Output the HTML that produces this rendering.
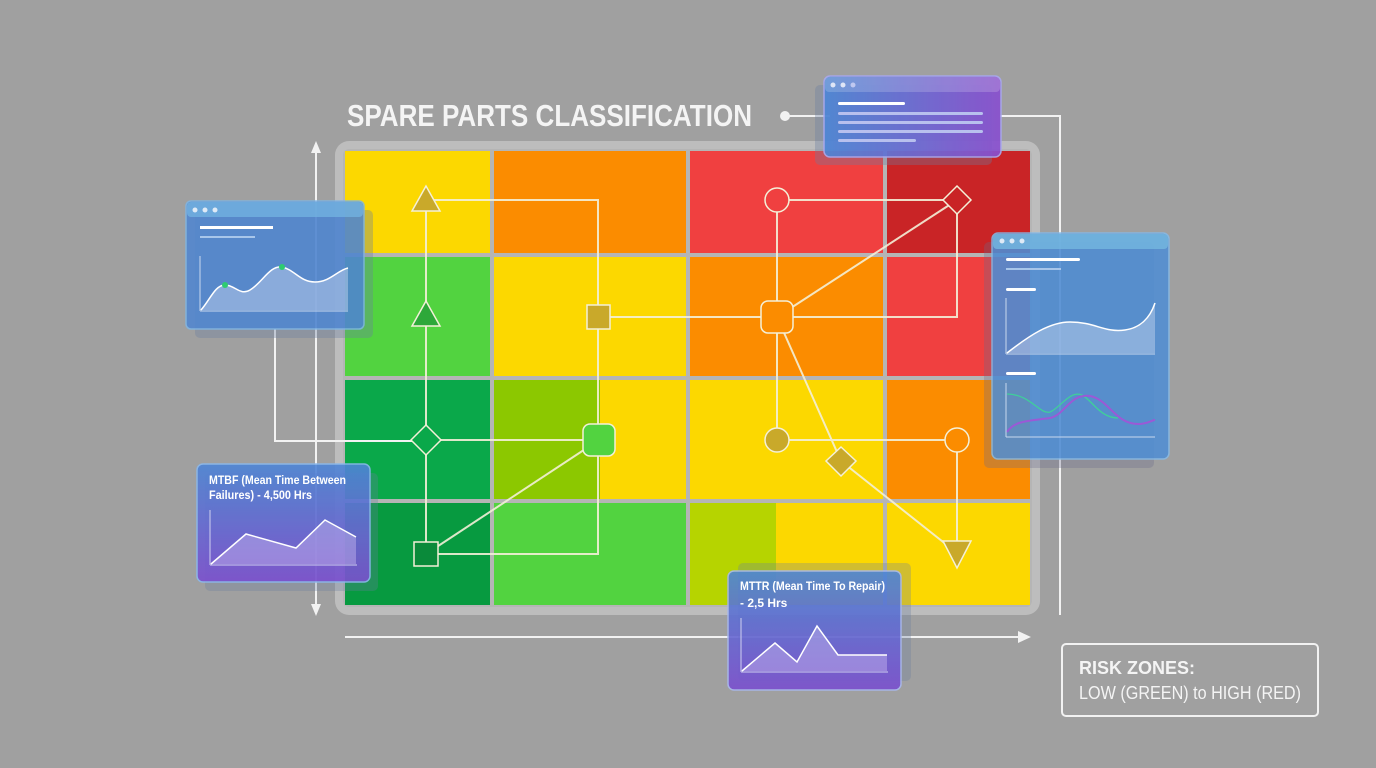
<!DOCTYPE html>
<html><head><meta charset="utf-8"><style>
html,body{margin:0;padding:0;background:#a0a0a0;}
svg{display:block;font-family:"Liberation Sans",sans-serif;}
</style></head><body>
<svg width="1376" height="768" viewBox="0 0 1376 768" xmlns="http://www.w3.org/2000/svg">
<defs>
<linearGradient id="bp" x1="0" y1="0" x2="0" y2="1"><stop offset="0" stop-color="#4d86d6"/><stop offset="1" stop-color="#7b4fcf"/></linearGradient>
<linearGradient id="bph" x1="0" y1="0" x2="1" y2="0"><stop offset="0" stop-color="#4d86d6"/><stop offset="1" stop-color="#8a4fcf"/></linearGradient>
</defs>
<rect width="1376" height="768" fill="#a0a0a0"/>
<!-- frame -->
<rect x="335" y="141" width="705" height="474" rx="14" fill="#bdbdbd"/>
<rect x="343" y="149" width="689" height="458" rx="6" fill="#b5b5b5"/>
<!-- cells -->
<g>
<rect x="345" y="151" width="145" height="102" fill="#fcd800"/>
<rect x="494" y="151" width="192" height="102" fill="#fb8c00"/>
<rect x="690" y="151" width="193" height="102" fill="#f04040"/>
<rect x="887" y="151" width="143" height="102" fill="#c92426"/>
<rect x="345" y="257" width="145" height="119" fill="#52d340"/>
<rect x="494" y="257" width="192" height="119" fill="#fcd800"/>
<rect x="690" y="257" width="193" height="119" fill="#fb8c00"/>
<rect x="887" y="257" width="143" height="119" fill="#f04040"/>
<rect x="345" y="380" width="145" height="119" fill="#0aa84a"/>
<rect x="494" y="380" width="106" height="119" fill="#8cc800"/>
<rect x="600" y="380" width="86" height="119" fill="#fcd800"/>
<rect x="690" y="380" width="193" height="119" fill="#fcd800"/>
<rect x="887" y="380" width="143" height="119" fill="#fb8c00"/>
<rect x="345" y="503" width="145" height="102" fill="#079a40"/>
<rect x="494" y="503" width="192" height="102" fill="#52d340"/>
<rect x="690" y="503" width="86" height="102" fill="#b6d400"/>
<rect x="776" y="503" width="107" height="102" fill="#fcd800"/>
<rect x="887" y="503" width="143" height="102" fill="#fcd800"/>
</g>
<!-- axes -->
<g stroke="#f2f2f2" stroke-width="2" fill="none">
<line x1="316" y1="150" x2="316" y2="608"/>
<line x1="345" y1="637" x2="1020" y2="637"/>
<polyline points="785,116 830,116"/>
<polyline points="1000,116 1060,116 1060,615"/>
<polyline points="275,329 275,441 426,441"/>
</g>
<polygon points="316,141 311,153 321,153" fill="#f2f2f2"/>
<polygon points="316,616 311,604 321,604" fill="#f2f2f2"/>
<polygon points="1031,637 1018,631 1018,643" fill="#f2f2f2"/>
<circle cx="785" cy="116" r="5" fill="#f2f2f2"/>
<!-- connectors -->
<g stroke="#f4f0d8" stroke-width="2" fill="none" opacity="0.9">
<polyline points="426,200 598,200 598,554 426,554"/>
<line x1="426" y1="200" x2="426" y2="554"/>
<polyline points="598,317 957,317 957,200"/>
<line x1="777" y1="200" x2="957" y2="200"/>
<line x1="777" y1="200" x2="777" y2="440"/>
<line x1="777" y1="317" x2="957" y2="200"/>
<polyline points="777,317 841,461 957,553"/>
<polyline points="777,440 957,440 957,553"/>
<line x1="426" y1="440" x2="599" y2="440"/>
<line x1="426" y1="554" x2="599" y2="440"/>
</g>
<!-- nodes -->
<g stroke="#f4f0d8" stroke-width="1.5">
<polygon points="426,186 412,211 440,211" fill="#c9a92a"/>
<polygon points="426,301 412,326 440,326" fill="#2ea83a"/>
<rect x="587" y="305" width="23" height="24" fill="#c9a92a"/>
<circle cx="777" cy="200" r="12" fill="#f04040"/>
<polygon points="957,186 971,200 957,214 943,200" fill="#c92426"/>
<rect x="761" y="301" width="32" height="32" rx="7" fill="#fb8c00"/>
<polygon points="426,425 441,440 426,455 411,440" fill="#0aa84a"/>
<rect x="583" y="424" width="32" height="32" rx="7" fill="#52d340"/>
<circle cx="777" cy="440" r="12" fill="#c9a92a"/>
<circle cx="957" cy="440" r="12" fill="#fb8c00"/>
<polygon points="841,447 856,461 841,476 826,461" fill="#c9a92a"/>
<rect x="414" y="542" width="24" height="24" fill="#0a8a3a"/>
<polygon points="943,541 971,541 957,568" fill="#c9a92a"/>
</g>
<!-- title -->
<text x="347" y="126" font-size="31" font-weight="bold" fill="#f4f4f4" textLength="405" lengthAdjust="spacingAndGlyphs">SPARE PARTS CLASSIFICATION</text>

<!-- left top card -->
<rect x="195" y="210" width="178" height="128" rx="5" fill="#6a7fa0" opacity="0.35"/>
<rect x="186" y="201" width="178" height="128" rx="5" fill="#4e86d2" opacity="0.85" stroke="#7fb6e6" stroke-width="1.5"/>
<rect x="187" y="202" width="176" height="15" rx="4" fill="#72b2e0" opacity="0.8"/>
<circle cx="195" cy="210" r="2.5" fill="#dfeaf6"/><circle cx="205" cy="210" r="2.5" fill="#dfeaf6"/><circle cx="215" cy="210" r="2.5" fill="#dfeaf6"/>
<rect x="200" y="226" width="73" height="3" fill="#fff"/>
<rect x="200" y="236" width="55" height="2" fill="#a8c6ea"/>
<path d="M201,310 C210,300 215,285 225,285 C235,285 240,296 250,290 C262,283 270,265 282,267 C295,270 300,282 315,282 C330,282 338,270 348,268 L348,310 Z" fill="#c9d8f0" opacity="0.45"/>
<path d="M201,310 C210,300 215,285 225,285 C235,285 240,296 250,290 C262,283 270,265 282,267 C295,270 300,282 315,282 C330,282 338,270 348,268" fill="none" stroke="#fff" stroke-width="1.5"/>
<line x1="200" y1="256" x2="200" y2="311" stroke="#c8d8ee" stroke-width="1"/>
<line x1="200" y1="311" x2="348" y2="311" stroke="#c8d8ee" stroke-width="1"/>
<circle cx="225" cy="285" r="3" fill="#2ecc71"/><circle cx="282" cy="267" r="3" fill="#2ecc71"/>

<!-- MTBF card -->
<rect x="205" y="473" width="173" height="118" rx="5" fill="#6a7fa0" opacity="0.3"/>
<rect x="197" y="464" width="173" height="118" rx="6" fill="url(#bp)" opacity="0.9" stroke="#8ab8ec" stroke-width="1.5"/>
<text x="209" y="484" font-size="12" font-weight="bold" fill="#fff" textLength="137" lengthAdjust="spacingAndGlyphs">MTBF (Mean Time Between</text>
<text x="209" y="499" font-size="12" font-weight="bold" fill="#fff" textLength="103" lengthAdjust="spacingAndGlyphs">Failures) - 4,500 Hrs</text>
<path d="M211,564 L246,534 L296,548 L325,520 L356,537 L356,564 Z" fill="#c8b8f0" opacity="0.45"/>
<polyline points="211,564 246,534 296,548 325,520 356,537" fill="none" stroke="#fff" stroke-width="1.5"/>
<line x1="210" y1="510" x2="210" y2="565" stroke="#d0d0f0"/><line x1="210" y1="565" x2="357" y2="565" stroke="#d0d0f0"/>

<!-- right card -->
<rect x="984" y="242" width="170" height="226" rx="5" fill="#6a6a8a" opacity="0.3"/>
<rect x="992" y="233" width="177" height="226" rx="6" fill="#4e8ed6" opacity="0.85" stroke="#86bbe8" stroke-width="1.5"/>
<rect x="993" y="234" width="175" height="15" rx="4" fill="#74b8e0" opacity="0.8"/>
<circle cx="1002" cy="241" r="2.5" fill="#dfeaf6"/><circle cx="1012" cy="241" r="2.5" fill="#dfeaf6"/><circle cx="1022" cy="241" r="2.5" fill="#dfeaf6"/>
<rect x="1006" y="258" width="74" height="3" rx="1.5" fill="#fff"/>
<rect x="1006" y="268" width="55" height="2" fill="#a8c6ea"/>
<rect x="1006" y="288" width="30" height="3" rx="1.5" fill="#fff"/>
<path d="M1007,353 C1030,335 1050,322 1070,322 C1095,322 1105,333 1125,330 C1140,328 1150,318 1155,303 L1155,353 Z" fill="#c9d8f0" opacity="0.45"/>
<path d="M1007,353 C1030,335 1050,322 1070,322 C1095,322 1105,333 1125,330 C1140,328 1150,318 1155,303" fill="none" stroke="#fff" stroke-width="1.5"/>
<line x1="1006" y1="298" x2="1006" y2="354" stroke="#c8d8ee"/><line x1="1006" y1="354" x2="1155" y2="354" stroke="#c8d8ee"/>
<rect x="1006" y="372" width="30" height="3" rx="1.5" fill="#fff"/>
<path d="M1007,394 C1030,394 1040,415 1050,412 C1060,408 1070,390 1082,395 C1092,400 1100,418 1118,418" fill="none" stroke="#3fcf9a" stroke-width="1.3"/>
<path d="M1007,432 C1015,420 1030,421 1050,418 C1065,415 1070,393 1090,396 C1110,400 1115,425 1140,424 C1150,423 1152,420 1155,420" fill="none" stroke="#9b59d6" stroke-width="2"/>
<line x1="1006" y1="383" x2="1006" y2="437" stroke="#c8d8ee"/><line x1="1006" y1="437" x2="1155" y2="437" stroke="#c8d8ee"/>

<!-- top card -->
<rect x="815" y="85" width="177" height="80" rx="5" fill="#6a7fa0" opacity="0.35"/>
<rect x="824" y="76" width="177" height="81" rx="6" fill="url(#bph)" opacity="0.92" stroke="#a8a8ee" stroke-width="1.5"/>
<rect x="825" y="77" width="175" height="15" rx="4" fill="#ffffff" opacity="0.18"/>
<circle cx="833" cy="85" r="2.5" fill="#dfe6f6"/><circle cx="843" cy="85" r="2.5" fill="#dfe6f6"/><circle cx="853" cy="85" r="2.5" fill="#c0c8f0"/>
<rect x="838" y="102" width="67" height="3" rx="1.5" fill="#fff"/>
<rect x="838" y="112" width="145" height="3" rx="1.5" fill="#b8c0ee"/>
<rect x="838" y="121" width="145" height="3" rx="1.5" fill="#b8c0ee"/>
<rect x="838" y="130" width="145" height="3" rx="1.5" fill="#b8c0ee"/>
<rect x="838" y="139" width="78" height="3" rx="1.5" fill="#b8c0ee"/>

<!-- MTTR card -->
<rect x="738" y="563" width="173" height="118" rx="5" fill="#6a7fa0" opacity="0.3"/>
<rect x="728" y="571" width="173" height="119" rx="6" fill="url(#bp)" opacity="0.9" stroke="#a8b8ee" stroke-width="1.5"/>
<text x="740" y="590" font-size="12" font-weight="bold" fill="#fff" textLength="145" lengthAdjust="spacingAndGlyphs">MTTR (Mean Time To Repair)</text>
<text x="740" y="607" font-size="12" font-weight="bold" fill="#fff">- 2,5 Hrs</text>
<path d="M742,671 L775,643 L797,662 L817,626 L838,655 L887,655 L887,671 Z" fill="#c8b8f0" opacity="0.45"/>
<polyline points="742,671 775,643 797,662 817,626 838,655 887,655" fill="none" stroke="#fff" stroke-width="1.5"/>
<line x1="741" y1="618" x2="741" y2="672" stroke="#d0d0f0"/><line x1="741" y1="672" x2="888" y2="672" stroke="#d0d0f0"/>

<!-- risk box -->
<rect x="1062" y="644" width="256" height="72" rx="4" fill="none" stroke="#f2f2f2" stroke-width="2"/>
<text x="1079" y="674" font-size="18" font-weight="bold" fill="#f4f4f4">RISK ZONES:</text>
<text x="1079" y="699" font-size="18" fill="#f4f4f4" textLength="222" lengthAdjust="spacingAndGlyphs">LOW (GREEN) to HIGH (RED)</text>
</svg>
</body></html>
